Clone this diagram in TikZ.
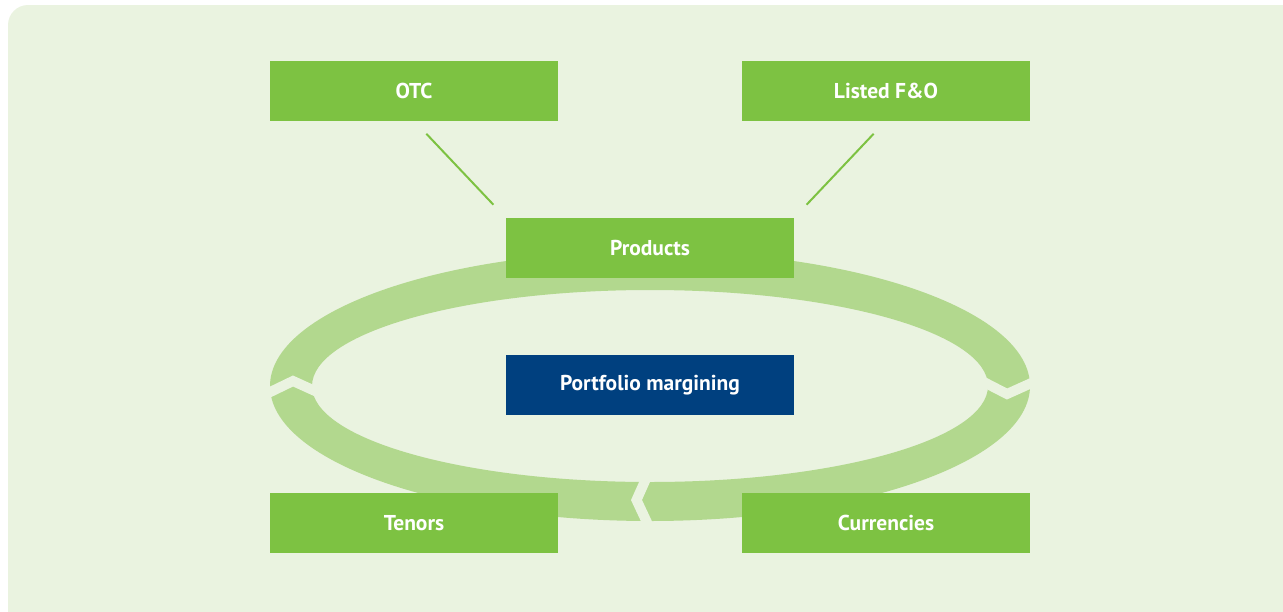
\documentclass[tikz,border=0pt]{standalone}
\usepackage{fontspec}
\setmainfont{PT Sans}
\definecolor{bggreen}{HTML}{EAF3E0}
\definecolor{ringgreen}{HTML}{B2D88E}
\definecolor{boxgreen}{HTML}{7DC242}
\definecolor{pmblue}{HTML}{00407F}

\begin{document}
\begin{tikzpicture}[x=1pt,y=-1pt,
  box/.style={fill=boxgreen, minimum width=288pt, minimum height=60pt, inner sep=0pt,
    text=white, font=\fontsize{21.5}{24}\selectfont\bfseries},
  gap/.style={draw=bggreen, line width=10pt, line join=miter},
  link/.style={draw=boxgreen, line width=2pt, shorten <=18pt, shorten >=18pt}]
\useasboundingbox (0,0) rectangle (1283,611);
\clip (0,0) rectangle (1283,611);
\fill[bggreen, rounded corners=20pt] (8,5) rectangle (1320,650);
% ring with its three notches
\fill[ringgreen, even odd rule] (650,386) ellipse [x radius=380, y radius=135]
  (650,386) ellipse [x radius=338, y radius=96];
\draw[gap] (262,396) -- (293,381) -- (326,396);
\draw[gap] (974,377) -- (1007,394) -- (1037,380.5);
\draw[gap] (649,472) -- (636.5,500) -- (651,531);
% boxes
\node[box] (otc) at (414,90.5) {OTC};
\node[box] (listed) at (886,90.5) {Listed F\&O};
\node[box] (products) at (650,248) {Products};
\node[box, fill=pmblue] (pm) at (650,385) {Portfolio margining};
\node[box] (tenors) at (414,523) {Tenors};
\node[box] (curr) at (886,523) {Currencies};
\draw[link] (otc.south) -- (products.north west);
\draw[link] (listed.south) -- (products.north east);
\end{tikzpicture}
\end{document}
